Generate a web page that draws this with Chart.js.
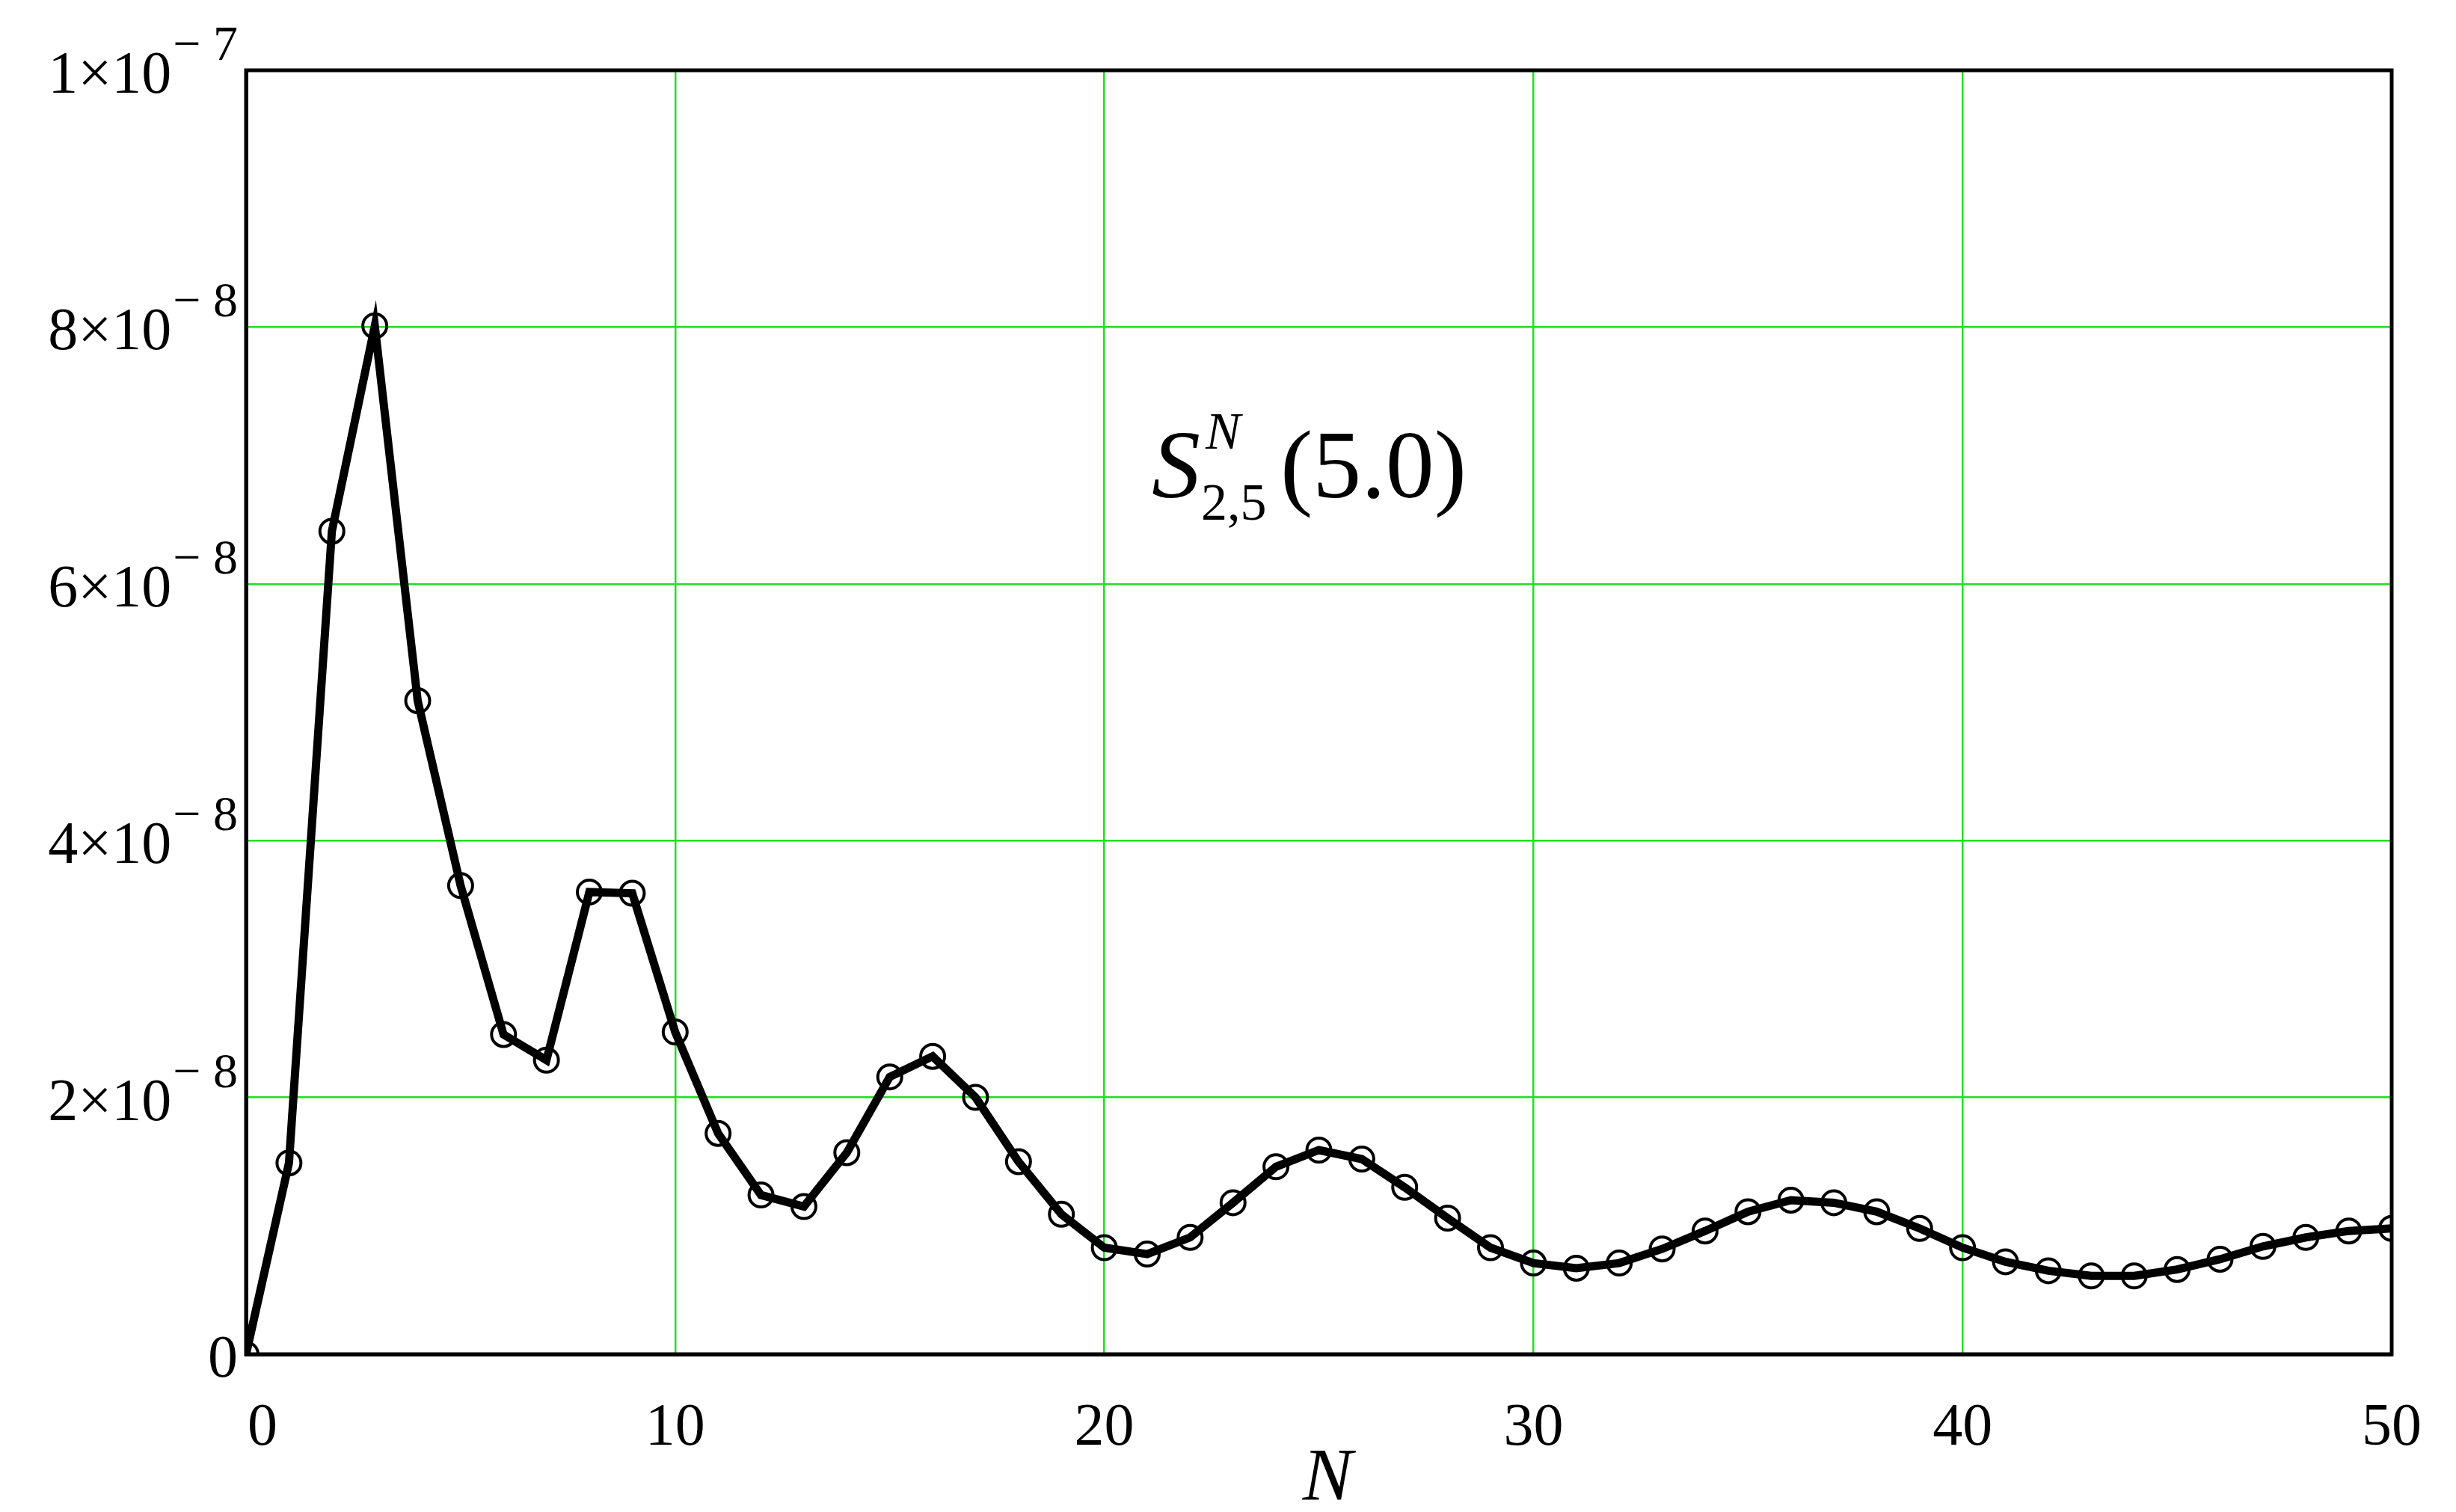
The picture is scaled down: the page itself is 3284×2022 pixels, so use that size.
<!DOCTYPE html>
<html>
<head>
<meta charset="utf-8">
<script src="https://cdn.jsdelivr.net/npm/chart.js@4/dist/chart.umd.min.js"></script>
<style>body{margin:0;background:#fff;overflow:hidden}</style>
</head>
<body>
<canvas id="c" width="3284" height="2022"></canvas>
<script>
// values in units of 1e-8
var nValues = [];
for (var i = 0; i <= 50; i++) nValues.push(i);
var sValues = [0, 1.49, 6.41, 8.01, 5.09, 3.65, 2.49, 2.29, 3.60, 3.59,
  2.51, 1.72, 1.24, 1.15, 1.57, 2.16, 2.32, 2.0, 1.5, 1.09,
  0.83, 0.78, 0.91, 1.18, 1.46, 1.59, 1.52, 1.30, 1.06, 0.83,
  0.71, 0.67, 0.71, 0.82, 0.96, 1.11, 1.20, 1.18, 1.11, 0.98,
  0.83, 0.72, 0.65, 0.61, 0.61, 0.66, 0.74, 0.84, 0.91, 0.96, 0.98];
var xTicks = [0, 10, 20, 30, 40, 50];
var yTicks = [0, 2, 4, 6, 8, 10];
var yTickMant = ["0", "2×10", "4×10", "6×10", "8×10", "1×10"];
var yTickExp = ["", "− 8", "− 8", "− 8", "− 8", "− 7"];

var serif = "'Liberation Serif', 'Times New Roman', Tinos, serif";

var labelsPlugin = {
  id: 'labels',
  afterDraw: function(chart) {
    var ctx = chart.ctx, xs = chart.scales.x, ys = chart.scales.y;
    ctx.save();
    ctx.fillStyle = '#000';
    ctx.font = '80px ' + serif;
    ctx.textAlign = 'center';
    ctx.textBaseline = 'alphabetic';
    xTicks.forEach(function(t) {
      var x = xs.getPixelForValue(t);
      if (t === 0) x += 22;
      ctx.fillText(String(t), x, 1932);
    });
    yTicks.forEach(function(t, i) {
      var y = ys.getPixelForValue(t);
      ctx.textAlign = 'right';
      if (i === 0) {
        ctx.font = '80px ' + serif;
        ctx.fillText('0', 318, y + 30);
        return;
      }
      ctx.font = '66px ' + serif;
      var ew = ctx.measureText(yTickExp[i]).width;
      ctx.fillText(yTickExp[i], 318, y - 14);
      ctx.font = '80px ' + serif;
      ctx.fillText(yTickMant[i], 318 - ew - 2, y + 30);
    });
    ctx.textAlign = 'center';
    ctx.font = 'italic 100px ' + serif;
    ctx.fillText('N', 1775, 2005);
    // annotation S^N_{2,5}(5.0)
    ctx.textAlign = 'left';
    ctx.font = 'italic 130px ' + serif;
    ctx.fillText('S', 1540, 665);
    ctx.font = 'italic 70px ' + serif;
    ctx.fillText('N', 1612, 600);
    ctx.font = '70px ' + serif;
    ctx.fillText('2,5', 1606, 695);
    ctx.font = '130px ' + serif;
    ctx.fillText('(5.0)', 1712, 665);
    ctx.restore();
  }
};

new Chart(document.getElementById('c'), {
  type: 'line',
  data: {
    labels: nValues,
    datasets: [{
      data: sValues.map(function(v, i) { return {x: nValues[i], y: v}; }),
      borderColor: '#000',
      borderWidth: 11,
      tension: 0,
      pointRadius: 16,
      pointBorderWidth: 4,
      pointBorderColor: '#000',
      pointBackgroundColor: 'rgba(0,0,0,0)'
    }]
  },
  options: {
    responsive: false,
    animation: false,
    devicePixelRatio: 1,
    layout: {padding: {left: 329, right: 86, top: 94, bottom: 211}},
    plugins: {legend: {display: false}, tooltip: {enabled: false}},
    scales: {
      x: {
        type: 'linear', min: 0, max: 50,
        ticks: {display: false, stepSize: 10},
        grid: {color: '#22dd22', lineWidth: 2.5, drawTicks: false},
        border: {display: true, color: '#000', width: 5}
      },
      y: {
        min: 0, max: 10,
        ticks: {display: false, stepSize: 2},
        grid: {color: '#22dd22', lineWidth: 2.5, drawTicks: false},
        border: {display: true, color: '#000', width: 5}
      }
    }
  },
  plugins: [labelsPlugin, {
    id: 'frame',
    afterDraw: function(chart) {
      var a = chart.chartArea, ctx = chart.ctx;
      ctx.save();
      ctx.strokeStyle = '#000';
      ctx.lineWidth = 5;
      ctx.strokeRect(a.left, a.top, a.right - a.left, a.bottom - a.top);
      ctx.restore();
    }
  }]
});
</script>
</body>
</html>
